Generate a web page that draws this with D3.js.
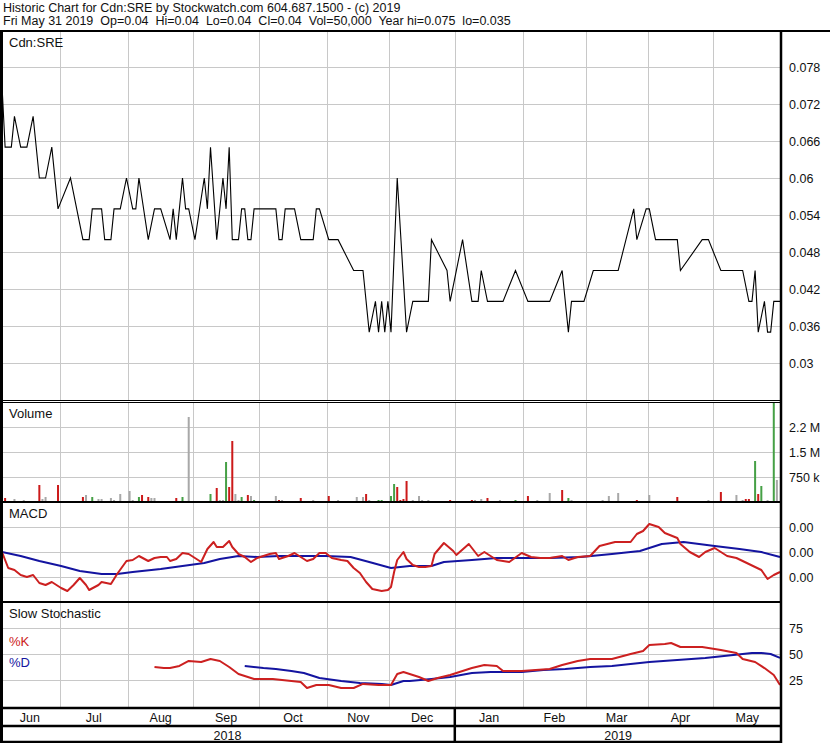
<!DOCTYPE html>
<html>
<head>
<meta charset="utf-8">
<script src="https://cdn.jsdelivr.net/npm/d3@7"></script>
<style>
  body { margin: 0; background: #fff; }
  text { font-family: Arial, "Liberation Sans", sans-serif; fill: #111; white-space: pre; }
</style>
</head>
<body>
<div id="chart"></div>
<script>

    const WIDTH = 830;
    const HEIGHT = 743;
    const AXIS_X = 781;
    const RED = "#cc2020";
    const BLUE = "#1414a0";
    const GRID = "#c8c8c8";

    // ---- data (x = trading day index, 0 = first day on chart) ----
    const headerLines = [
        "Historic Chart for Cdn:SRE by Stockwatch.com 604.687.1500 - (c) 2019",
        "Fri May 31 2019  Op=0.04  Hi=0.04  Lo=0.04  Cl=0.04  Vol=50,000  Year hi=0.075  lo=0.035"
    ];
    const months = ["Jun", "Jul", "Aug", "Sep", "Oct", "Nov", "Dec", "Jan", "Feb", "Mar", "Apr", "May"];
    const monthStarts = [18.5, 40.5, 61.5, 82.5, 104.5, 124.5, 145.5, 167.5, 187.5, 207.5, 228.5];
    const years = ["2018", "2019"];
    const yearStart = 145.5;
    const lastDay = 250;

    const priceTicks = [0.078, 0.072, 0.066, 0.06, 0.054, 0.048, 0.042, 0.036, 0.03];
    const volumeTicks = [2250000, 1500000, 750000];
    const volumeTickLabels = ["2.2 M", "1.5 M", "750 k"];
    const macdTicks = [0.001, 0, -0.001];
    const macdTickLabels = ["0.00", "0.00", "0.00"];
    const stochTicks = [75, 50, 25];

    // close price, turning points of the line
    const closes = [[0,0.075],[1,0.065],[3,0.065],[4,0.07],[6,0.065],[8,0.065],[10,0.07],[12,0.06],[14,0.06],
        [16,0.065],[18,0.055],[22,0.06],[26,0.05],[28,0.05],[29,0.055],[32,0.055],[33,0.05],[35,0.05],[36,0.055],
        [38,0.055],[40,0.06],[42,0.055],[43,0.055],[44,0.06],[47,0.05],[49,0.055],[51,0.055],[54,0.05],[55,0.055],
        [56,0.05],[58,0.06],[59,0.055],[60,0.055],[62,0.05],[65,0.06],[66,0.055],[67,0.065],[69,0.05],[71,0.06],
        [72,0.055],[73,0.065],[74,0.05],[76,0.05],[77,0.055],[78,0.055],[79,0.05],[80,0.05],[81,0.055],[88,0.055],
        [89,0.05],[90,0.05],[91,0.055],[94,0.055],[96,0.05],[100,0.05],[101,0.055],[102,0.055],[105,0.05],[108,0.05],
        [113,0.045],[116,0.045],[118,0.035],[120,0.04],[121,0.035],[122,0.04],[123,0.035],[124,0.04],[125,0.035],
        [127,0.06],[130,0.035],[132,0.04],[137,0.04],[138,0.05],[143,0.045],[144,0.04],[148,0.05],[151,0.04],
        [153,0.04],[154,0.045],[156,0.04],[161,0.04],[165,0.045],[169,0.04],[176,0.04],[180,0.045],[182,0.035],
        [183,0.04],[187,0.04],[190,0.045],[198,0.045],[203,0.055],[204,0.05],[207,0.055],[208,0.055],[210,0.05],
        [217,0.05],[218,0.045],[225,0.05],[227,0.05],[231,0.045],[238,0.045],[240,0.04],[241,0.04],[242,0.045],
        [243,0.035],[245,0.04],[246,0.035],[247,0.035],[248,0.04],[250,0.04]];

    // [day, volume, direction: 1 up, -1 down, 0 unchanged]
    const volumes = [[1,120000,-1],[4,90000,0],[7,60000,0],[12,510000,-1],[13,90000,0],[14,150000,0],[18,510000,-1],
        [26,150000,-1],[27,210000,0],[29,150000,1],[31,90000,0],[32,90000,0],[35,120000,0],[36,60000,0],[38,240000,0],
        [41,330000,0],[42,60000,0],[44,150000,1],[45,210000,-1],[47,150000,-1],[48,120000,0],[49,120000,0],
        [56,120000,-1],[58,150000,1],[60,2550000,0],[67,240000,1],[69,420000,-1],[70,60000,0],[71,60000,0],
        [72,1200000,1],[73,450000,-1],[74,1830000,-1],[75,240000,0],[76,60000,0],[77,150000,1],[79,210000,-1],
        [80,180000,0],[81,60000,1],[88,180000,0],[89,60000,-1],[90,60000,0],[96,120000,-1],[100,60000,0],
        [105,180000,-1],[108,60000,0],[114,150000,0],[116,150000,0],[117,240000,-1],[118,60000,0],[121,60000,1],
        [122,60000,1],[125,180000,1],[126,540000,1],[127,450000,-1],[128,60000,-1],[129,90000,-1],[130,630000,-1],
        [132,60000,0],[134,180000,0],[135,60000,0],[137,60000,0],[144,60000,-1],[151,60000,-1],[152,60000,0],
        [154,90000,0],[156,120000,-1],[160,60000,0],[165,60000,1],[169,180000,-1],[172,60000,0],[176,270000,0],
        [180,360000,-1],[182,120000,1],[183,60000,0],[193,60000,0],[195,180000,0],[198,270000,0],[204,60000,-1],
        [208,210000,0],[217,150000,-1],[227,60000,0],[231,300000,-1],[236,210000,0],[238,60000,0],[239,90000,-1],
        [240,90000,-1],[242,1230000,1],[243,240000,-1],[244,480000,1],[246,60000,0],[248,3000000,1],[249,660000,0]];

    const macdLine = [[0,0],[2,-0.00064],[4,-0.00072],[6,-0.00092],[8,-0.001],[10,-0.00092],[12,-0.00124],
        [14,-0.00132],[16,-0.0012],[19,-0.00144],[21,-0.00156],[23,-0.00132],[25,-0.00104],[27,-0.00132],
        [28,-0.00152],[31,-0.00132],[32,-0.0012],[35,-0.00128],[37,-0.00088],[40,-0.00036],[42,-0.00032],
        [44,-0.00016],[47,-0.00036],[49,-0.00024],[51,-0.0002],[53,-0.0002],[54,-0.00036],[56,-0.00028],
        [58,-0.00004],[60,-0.00008],[64,-0.0004],[66,0.00012],[68,0.0004],[69,0.0002],[71,0.0002],[73,0.00044],
        [74,0.0002],[76,-0.00008],[78,-0.0002],[80,-0.0004],[82,-0.00024],[84,-0.00016],[86,-0.00008],
        [88,-0.00004],[89,-0.00028],[92,-0.00016],[94,-0.00004],[96,-0.0002],[98,-0.00036],[100,-0.00028],
        [102,-0.00004],[104,-0.00004],[106,-0.00024],[109,-0.00032],[111,-0.00036],[113,-0.00064],[115,-0.00084],
        [117,-0.0012],[119,-0.00148],[122,-0.00156],[124,-0.00152],[125,-0.0014],[126,-0.0008],[127,-0.00032],
        [129,0],[130,-0.00028],[132,-0.00052],[134,-0.0006],[136,-0.0006],[138,-0.00056],[139,-0.00008],
        [142,0.00036],[145,0.00004],[146,-0.00012],[150,0.00032],[153,-0.00016],[155,0],[157,-0.00016],
        [159,-0.00032],[163,-0.0004],[167,-0.00004],[170,-0.0002],[173,-0.00024],[176,-0.00024],[180,-0.00016],
        [182,-0.00032],[185,-0.0002],[189,-0.00016],[192,0.00024],[197,0.0004],[202,0.0004],[204,0.00072],
        [206,0.00084],[208,0.00112],[211,0.001],[213,0.00076],[217,0.00056],[218,0.00032],[221,0],[224,-0.0002],
        [226,0],[229,0.00016],[231,0],[233,-0.00016],[236,-0.00024],[238,-0.00036],[242,-0.0006],[244,-0.00072],
        [246,-0.00108],[248,-0.00092],[250,-0.0008]];

    const macdSignal = [[0,0],[6,-0.00016],[12,-0.00036],[19,-0.00056],[25,-0.00076],[32,-0.00088],[37,-0.00088],
        [42,-0.0008],[51,-0.00068],[58,-0.00056],[65,-0.00044],[70,-0.00028],[76,-0.00016],[82,-0.0002],
        [89,-0.00016],[96,-0.00016],[104,-0.00016],[112,-0.0002],[118,-0.0004],[125,-0.00064],[131,-0.00056],
        [138,-0.00056],[142,-0.0004],[151,-0.00032],[159,-0.00024],[167,-0.00024],[176,-0.00024],[186,-0.0002],
        [196,-0.00008],[205,0.00004],[212,0.00032],[219,0.0004],[229,0.00024],[237,0.00012],[244,0],[250,-0.0002]];

    const stochK = [[49,37.5],[52,36.5],[54,36.5],[57,38.5],[60,43.3],[64,42.3],[67,45.2],[70,43.3],[73,37.5],
        [76,30.8],[78,28.8],[81,26],[87,26],[93,24],[96,23.1],[98,17.3],[101,20.2],[105,20.2],[109,17.3],
        [113,17.3],[116,21.2],[121,20.2],[125,20.2],[127,30.8],[129,32.7],[131,30.8],[134,27.9],[137,24],
        [140,26.9],[144,29.8],[147,32.7],[151,36.5],[155,39.4],[159,38.5],[161,33.7],[167,33.7],[176,35.6],
        [180,39.4],[185,43.3],[189,45.2],[196,45.2],[202,50],[206,52.9],[208,58.7],[213,59.6],[215,60.6],
        [218,56.7],[225,56.7],[231,53.8],[236,51],[238,45.2],[242,42.3],[245,36.5],[248,29.8],[250,20.2]];

    const stochD = [[78,38.5],[84,36.5],[88,35.6],[93,33.7],[97,31.7],[102,26.9],[109,24],[115,22.1],[122,21.2],
        [125,20.2],[129,24],[131,24],[138,26],[144,27.9],[151,31.7],[157,32.7],[167,32.7],[174,34.6],[181,35.6],
        [189,37.5],[196,38.5],[202,40.4],[208,42.3],[217,44.2],[226,46.2],[235,49],[241,51],[244,51],[247,50],
        [250,46.2]];

    // ---- layout ----
    const panels = {
        price:  {top: 31,  bottom: 401, label: "Cdn:SRE"},
        volume: {top: 402, bottom: 502, label: "Volume"},
        macd:   {top: 502, bottom: 602, label: "MACD"},
        stoch:  {top: 602, bottom: 708, label: "Slow Stochastic"}
    };
    const MONTH_ROW = [708, 726];
    const YEAR_ROW = [726, 742];

    var svg = d3.select("#chart").append("svg")
        .attr("width", WIDTH)
        .attr("height", HEIGHT)
        .style("display", "block");

    var x = d3.scaleLinear().domain([0, lastDay]).range([2, 780]);

    var yPrice = d3.scaleLinear().domain([0.03, 0.078]).range([363, 67]);
    var yVol = d3.scaleLinear().domain([0, 3000000]).range([502, 402]);
    var yMacd = d3.scaleLinear().domain([-0.001, 0.001]).range([577, 527]);
    var yStoch = d3.scaleLinear().domain([25, 75]).range([680, 628]);

    // header
    headerLines.forEach(function (t, i) {
        svg.append("text")
            .attr("x", 3)
            .attr("y", 12 + i * 13)
            .attr("font-size", 12.5)
            .text(t);
    });

    // clip paths + grids for each panel
    var defs = svg.append("defs");
    Object.keys(panels).forEach(function (k) {
        var p = panels[k];
        defs.append("clipPath").attr("id", "clip-" + k)
            .append("rect")
            .attr("x", 2).attr("y", p.top + 1)
            .attr("width", AXIS_X - 2).attr("height", p.bottom - p.top - 1);

        // month gridlines
        monthStarts.forEach(function (m) {
            svg.append("line")
                .style("stroke", GRID)
                .attr("x1", Math.round(x(m)) + 0.5)
                .attr("x2", Math.round(x(m)) + 0.5)
                .attr("y1", p.top)
                .attr("y2", p.bottom);
        });
    });

    function hGrid(scale, ticks, labels, panel) {
        ticks.forEach(function (t, i) {
            var yy = Math.round(scale(t)) + 0.5;
            svg.append("line")
                .style("stroke", GRID)
                .attr("x1", 2).attr("x2", AXIS_X)
                .attr("y1", yy).attr("y2", yy);
            svg.append("text")
                .attr("x", 789)
                .attr("y", yy + 4.5)
                .attr("font-size", 12.5)
                .text(labels ? labels[i] : String(t));
        });
    }
    hGrid(yPrice, priceTicks, null, panels.price);
    hGrid(yVol, volumeTicks, volumeTickLabels, panels.volume);
    hGrid(yMacd, macdTicks, macdTickLabels, panels.macd);
    hGrid(yStoch, stochTicks, null, panels.stoch);

    // price line
    svg.append("path")
        .datum(closes)
        .attr("clip-path", "url(#clip-price)")
        .attr("fill", "none")
        .attr("stroke", "black")
        .attr("stroke-width", 1.1)
        .attr("d", d3.line().x(function (d) { return x(d[0]); }).y(function (d) { return yPrice(d[1]); }));

    // volume bars
    var volColor = {"1": "#46a046", "-1": "#cc1a1a", "0": "#a8a8a8"};
    svg.append("g")
        .attr("clip-path", "url(#clip-volume)")
        .selectAll("rect")
        .data(volumes)
        .enter().append("rect")
        .attr("x", function (d) { return x(d[0]) - 1; })
        .attr("width", 2)
        .attr("y", function (d) { return yVol(d[1]); })
        .attr("height", function (d) { return yVol(0) - yVol(d[1]); })
        .attr("fill", function (d) { return volColor[d[2]]; });

    function drawLine(data, scale, color, clip) {
        svg.append("path")
            .datum(data)
            .attr("clip-path", "url(#clip-" + clip + ")")
            .attr("fill", "none")
            .attr("stroke", color)
            .attr("stroke-width", 2)
            .attr("stroke-linejoin", "round")
            .attr("d", d3.line().x(function (d) { return x(d[0]); }).y(function (d) { return scale(d[1]); }));
    }
    drawLine(macdSignal, yMacd, BLUE, "macd");
    drawLine(macdLine, yMacd, RED, "macd");
    drawLine(stochD, yStoch, BLUE, "stoch");
    drawLine(stochK, yStoch, RED, "stoch");

    // panel labels
    Object.keys(panels).forEach(function (k) {
        svg.append("text")
            .attr("x", 9)
            .attr("y", panels[k].top + 16)
            .attr("font-size", 13)
            .text(panels[k].label);
    });
    svg.append("text").attr("x", 9).attr("y", 646).attr("font-size", 13).style("fill", RED).text("%K");
    svg.append("text").attr("x", 9).attr("y", 667).attr("font-size", 13).style("fill", BLUE).text("%D");

    // month + year rows
    var mBounds = [-0.6].concat(monthStarts).concat([lastDay + 0.5]);
    months.forEach(function (m, i) {
        svg.append("text")
            .attr("x", (x(mBounds[i]) + x(mBounds[i + 1])) / 2)
            .attr("y", MONTH_ROW[0] + 14)
            .attr("text-anchor", "middle")
            .attr("font-size", 12.5)
            .text(m);
    });
    var yBounds = [-0.6, yearStart, lastDay + 0.5];
    years.forEach(function (yr, i) {
        svg.append("text")
            .attr("x", (x(yBounds[i]) + x(yBounds[i + 1])) / 2)
            .attr("y", YEAR_ROW[0] + 14)
            .attr("text-anchor", "middle")
            .attr("font-size", 12.5)
            .text(yr);
    });

    // frame lines
    function hLine(yy, w, x2) {
        svg.append("line").style("stroke", "black").attr("stroke-width", w)
            .attr("x1", 0).attr("x2", x2 || AXIS_X + 1).attr("y1", yy).attr("y2", yy);
    }
    function vLine(xx, y1, y2, w) {
        svg.append("line").style("stroke", "black").attr("stroke-width", w)
            .attr("x1", xx).attr("x2", xx).attr("y1", y1).attr("y2", y2);
    }
    hLine(31, 2, WIDTH);
    hLine(400.5, 1.2);
    hLine(402.5, 1.2);
    hLine(502, 2);
    hLine(602, 2);
    hLine(708, 2.5);
    hLine(726, 2.5);
    hLine(742, 2.5);
    vLine(1.5, 31, 743, 3);
    vLine(AXIS_X, 31, 743, 2.5);
    vLine(x(yearStart), MONTH_ROW[0], YEAR_ROW[1], 2.5);

</script>
</body>
</html>
